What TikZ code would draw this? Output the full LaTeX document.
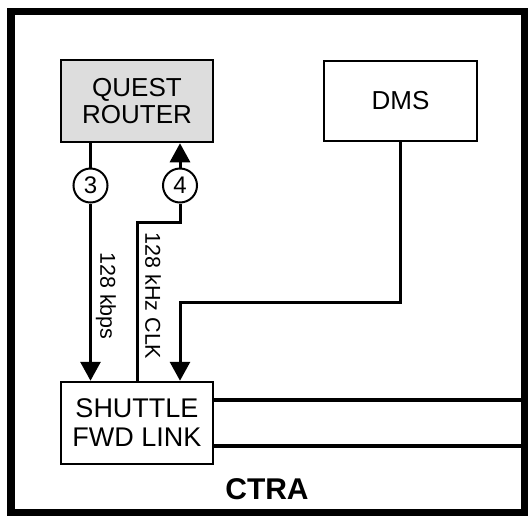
\documentclass[tikz,border=0pt]{standalone}
\usepackage{fontspec}
\setmainfont{Liberation Sans}
\usetikzlibrary{arrows.meta}
\definecolor{boxgray}{RGB}{221,221,221}
\tikzset{
  blockbox/.style={draw=black, line width=2.5pt, inner sep=0pt, align=center, minimum width=152pt, minimum height=82pt},
  numcirc/.style={draw=black, fill=white, circle, line width=2pt, inner sep=0pt, minimum size=34pt, font=\fontsize{24}{24}\selectfont},
  conn/.style={line width=3pt},
  arr/.style={conn, -{Triangle[length=19pt,width=20pt]}},
  vlabel/.style={rotate=-90, inner sep=0pt, font=\fontsize{21.5}{22}\selectfont}
}
\begin{document}
\begin{tikzpicture}[x=1pt,y=-1pt]
\useasboundingbox (0,0) rectangle (528,517);
\fill[white] (0,0) rectangle (528,517);
% frame
\draw[line width=7.5pt] (11,11.5) rectangle (524.5,512.5);
% blocks
\node[blockbox, fill=boxgray, font=\fontsize{26}{27}\selectfont] (quest) at (137,101) {QUEST\\ROUTER};
\node[blockbox, minimum width=153pt, minimum height=80pt, font=\fontsize{26}{27}\selectfont] (dms) at (400.5,101) {DMS};
\node[blockbox, fill=white, font=\fontsize{27}{29}\selectfont] (shuttle) at (137,423) {SHUTTLE\\FWD LINK};
% circles
\node[numcirc] (c3) at (90.5,185.5) {3};
\node[numcirc] (c4) at (180,185.5) {4};
% connectors
\coordinate (b4) at (137,222);
\coordinate (b5) at (180,302);
\coordinate (r1) at (524.5,400);
\coordinate (r2) at (524.5,446);
\draw[conn] (c3 |- quest.south) -- (c3.north);
\draw[arr] (c3.south) -- (c3 |- shuttle.north);
\draw[arr] (c4.north) -- (c4 |- quest.south);
\draw[conn] (c4.south) |- (b4) -- (b4 |- shuttle.north);
\draw[arr] (dms.south) |- (b5) -- (b5 |- shuttle.north);
\draw[line width=3.5pt] (shuttle.east |- r1) -- (r1);
\draw[line width=3.5pt] (shuttle.east |- r2) -- (r2);
% labels
\node[vlabel] (lkbps) at (106,296) {128 kbps};
\node[vlabel] (lclk) at (153,296) {128 kHz CLK};
\node[inner sep=0pt, font=\fontsize{30}{30}\selectfont\bfseries] (ctra) at (267,489) {CTRA};
\end{tikzpicture}
\end{document}
